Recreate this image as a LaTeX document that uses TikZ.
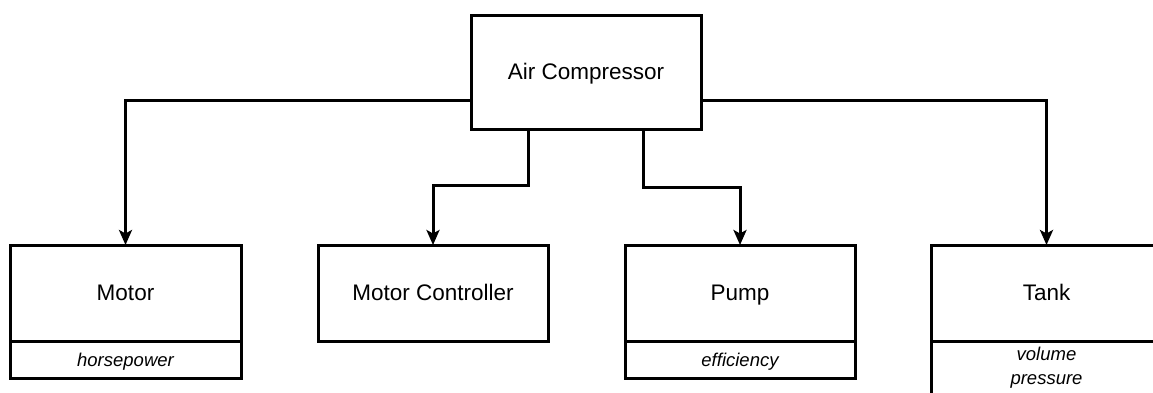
\documentclass[tikz,border=0pt]{standalone}
\usepackage{fontspec}
\setmainfont{Liberation Sans}
\usetikzlibrary{arrows.meta,calc}
\begin{document}
\begin{tikzpicture}[x=1pt,y=-1pt,
  box/.style={draw,line width=3pt,fill=white,outer sep=0pt,inner sep=0pt,text height=16pt,text depth=2pt,font=\fontsize{22.5}{27}\selectfont},
  attr/.style={draw,line width=3pt,fill=white,outer sep=0pt,inner sep=0pt,text height=14pt,text depth=0pt,font=\fontsize{18.5}{24}\selectfont\itshape,align=center},
  conn/.style={line width=3pt,-{Stealth[length=15pt,width=13pt,inset=3.5pt]}}]
\useasboundingbox (0,0) rectangle (1153,392);
\clip (0,0) rectangle (1153,392);
\node[box,minimum width=230pt,minimum height=114pt] (ac) at (586,72) {Air Compressor};
\node[box,minimum width=231pt,minimum height=96pt] (motor) at (125.5,293) {Motor};
\node[attr,minimum width=231pt,minimum height=37pt] (motorA) at (125.5,359.5) {horsepower};
\node[box,minimum width=230pt,minimum height=96pt] (mc) at (433,293) {Motor Controller};
\node[box,minimum width=230pt,minimum height=96pt] (pump) at (740,293) {Pump};
\node[attr,minimum width=230pt,minimum height=37pt] (pumpA) at (740,359.5) {efficiency};
\node[box,minimum width=231pt,minimum height=96pt] (tank) at (1046.5,293) {Tank};
\node[draw,line width=3pt,fill=white,minimum width=231pt,minimum height=80pt,anchor=north,outer sep=0pt] (tankA) at (1046.5,341) {};
\node[font=\fontsize{18.5}{24}\selectfont\itshape,align=center,anchor=north,inner sep=0pt] (tankT) at (1046.5,347) {volume\\pressure};
\coordinate (l0) at ($(ac.west)+(0,28)$);
\coordinate (r0) at ($(ac.east)+(0,28)$);
\coordinate (c0) at ($(ac.south)+(-58,0)$);
\coordinate (p0) at ($(ac.south)+(57,0)$);
\draw[conn] (l0) -| (motor.north);
\draw[conn] (r0) -| (tank.north);
\draw[conn] (c0) -- ++(0,56) -| (mc.north);
\draw[conn] (p0) -- ++(0,58) -| (pump.north);
\end{tikzpicture}
\end{document}
